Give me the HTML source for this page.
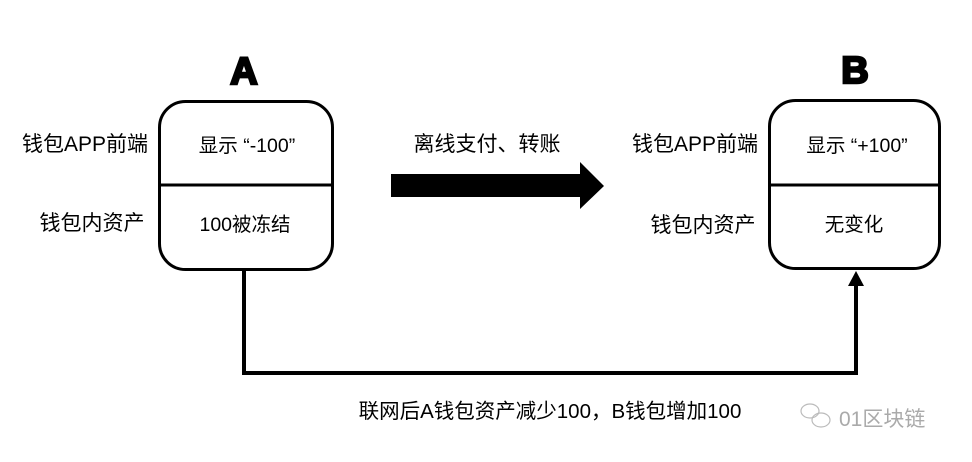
<!DOCTYPE html>
<html><head><meta charset="utf-8"><style>
body{margin:0;background:#fff}
svg{display:block}
text{font-family:"Liberation Sans","Noto Sans CJK SC",sans-serif;fill:#000}
</style></head><body>
<svg width="972" height="462" viewBox="0 0 972 462">
<rect x="159.5" y="101.5" width="173" height="168" rx="26" fill="none" stroke="#000" stroke-width="3"/>
<line x1="159" y1="185" x2="333" y2="185" stroke="#000" stroke-width="3"/>
<rect x="769.5" y="100.5" width="170" height="168" rx="26" fill="none" stroke="#000" stroke-width="3"/>
<line x1="769" y1="185" x2="940" y2="185" stroke="#000" stroke-width="3"/>
<text x="244" y="84" font-size="38" font-weight="bold" text-anchor="middle" font-family="DejaVu Sans" stroke="#000" stroke-width="2.5">A</text>
<text x="855" y="83" font-size="38" font-weight="bold" text-anchor="middle" font-family="DejaVu Sans" stroke="#000" stroke-width="2.5">B</text>
<text x="247" y="152" font-size="19.5" text-anchor="middle" xml:space="preserve">显示 “-100”</text>
<text x="245" y="231" font-size="19.5" text-anchor="middle">100被冻结</text>
<text x="857" y="152" font-size="19.5" text-anchor="middle" xml:space="preserve">显示 “+100”</text>
<text x="854" y="231" font-size="19.5" text-anchor="middle">无变化</text>
<text x="85" y="151" font-size="21" text-anchor="middle">钱包APP前端</text>
<text x="92" y="230" font-size="21" text-anchor="middle">钱包内资产</text>
<text x="695" y="151" font-size="21" text-anchor="middle">钱包APP前端</text>
<text x="703" y="232" font-size="21" text-anchor="middle">钱包内资产</text>
<text x="487" y="151" font-size="21" text-anchor="middle">离线支付、转账</text>
<polygon points="391,174 580,174 580,162 604,186 580,209 580,197 391,197" fill="#000"/>
<polyline points="244,270 244,373 856,373 856,284" fill="none" stroke="#000" stroke-width="4"/>
<polygon points="856,271 848,286 864,286" fill="#000"/>
<text x="550" y="418" font-size="20.5" text-anchor="middle">联网后A钱包资产减少100，B钱包增加100</text>
<g fill="none" stroke="#bbb" stroke-width="1.2">
<ellipse cx="810" cy="411" rx="9" ry="7"/><ellipse cx="821" cy="420" rx="9" ry="7"/>
</g>
<text x="839" y="426" font-size="21" style="fill:#aaa">01区块链</text>
</svg>
</body></html>
